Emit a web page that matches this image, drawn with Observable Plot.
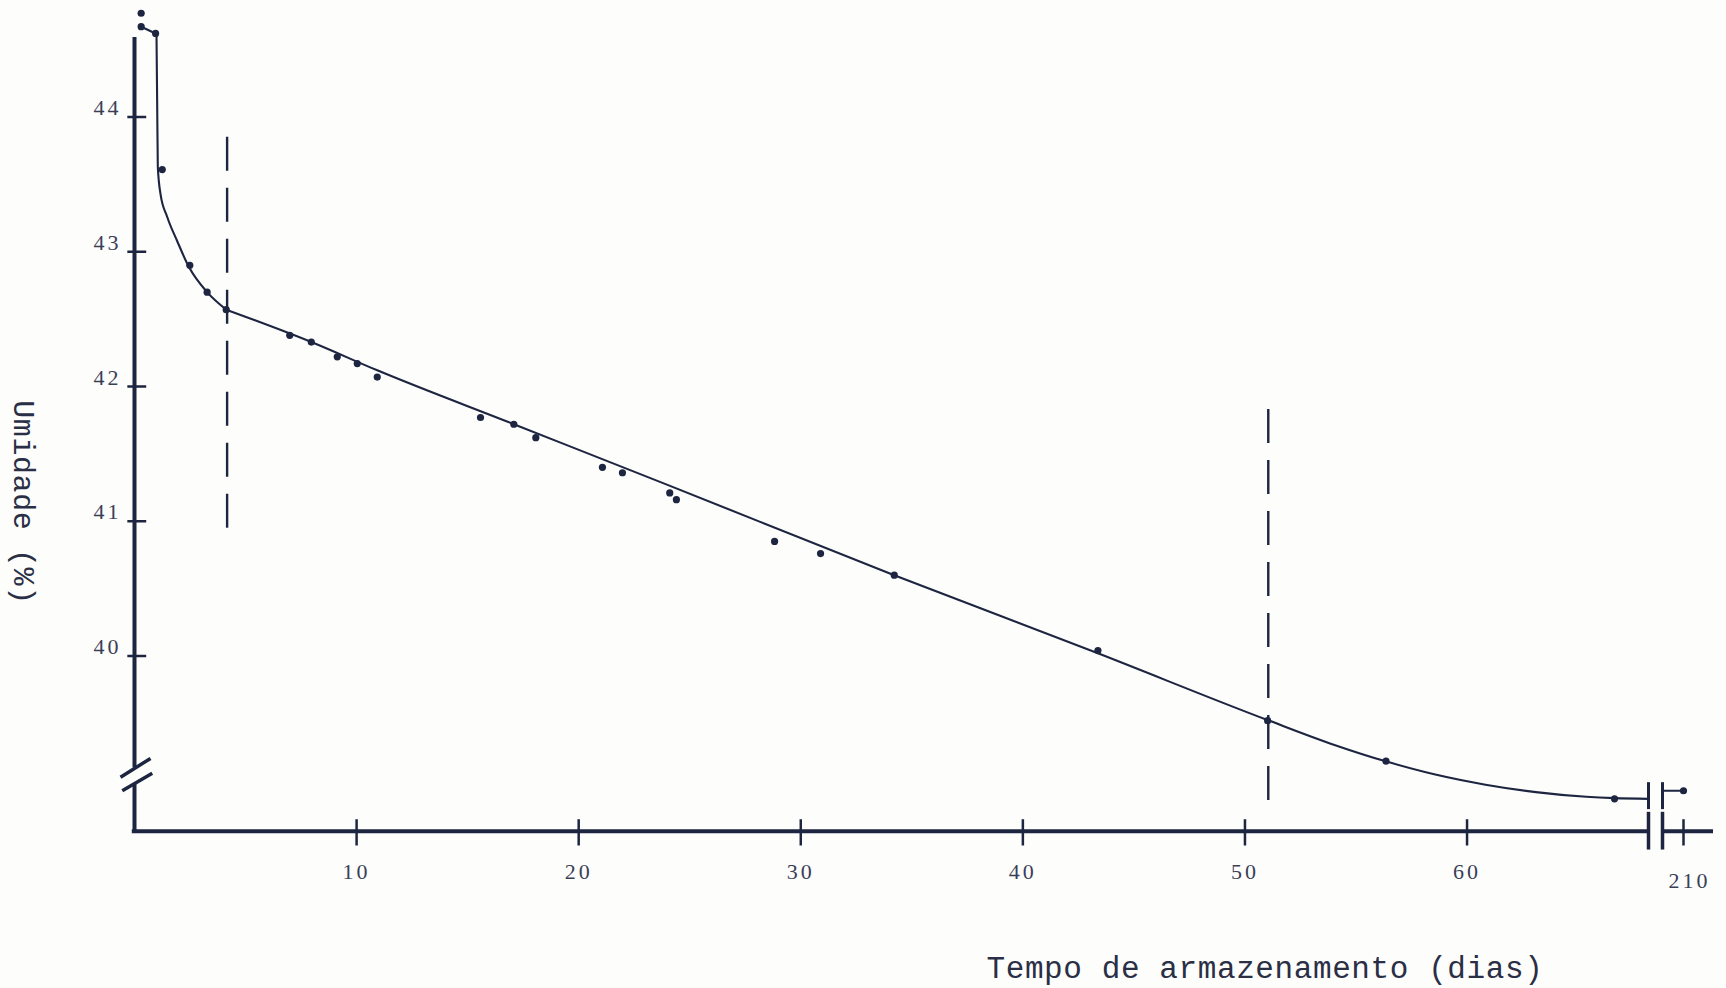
<!DOCTYPE html>
<html>
<head>
<meta charset="utf-8">
<script src="https://cdn.jsdelivr.net/npm/d3@7"></script>
<script src="https://cdn.jsdelivr.net/npm/@observablehq/plot@0.6"></script>
<style>
  html, body { margin: 0; padding: 0; background: #fdfdfc; }
  #chart svg { display: block; }
  g[font-family="Liberation Serif"] text { letter-spacing: 3px; }
  g[font-family="Liberation Mono"] text { letter-spacing: 0.6px; }
</style>
</head>
<body>
<div id="chart"></div>
<script>
// Moisture (%) measured during storage (days)
const days     = [0.30, 0.30, 0.95, 1.25, 2.49, 3.27, 4.13, 6.99, 7.96, 9.13, 10.03, 10.93, 15.58, 17.08, 18.07, 21.07, 21.97, 24.10, 24.40, 28.82, 30.89, 34.21, 43.38, 51.02, 56.35, 66.64, 210];
const moisture = [44.77, 44.67, 44.62, 43.61, 42.90, 42.70, 42.57, 42.38, 42.33, 42.22, 42.17, 42.07, 41.77, 41.72, 41.62, 41.40, 41.36, 41.21, 41.16, 40.85, 40.76, 40.60, 40.04, 39.52, 39.22, 38.94, 39.00];

// Fitted curve: initial fast drop (until the first phase limit)
const headDays   = [0.99, 1.02, 1.05, 1.17, 1.47, 1.92, 2.44, 3.27, 4.13];
const headValues = [44.62, 44.12, 43.63, 43.43, 43.26, 43.08, 42.89, 42.70, 42.57];
// Fitted curve: linear phase and final levelling off
const bodyDays   = [4.13, 7.96, 10.93, 17.08, 24.00, 34.21, 43.38, 51.01, 54.03, 56.30, 58.57, 60.83, 63.10, 65.37, 66.64, 68.17];
const bodyValues = [42.57, 42.33, 42.12, 41.72, 41.27, 40.60, 40.02, 39.525, 39.34, 39.22, 39.12, 39.045, 38.99, 38.955, 38.945, 38.94];
// short joining pieces before the curve and after the axis break
const leadDays = [0.30, 0.95], leadValues = [44.67, 44.62];
const tailDays = [208.6, 210], tailValues = [39.00, 39.00];

// Phase limits (dashed verticals)
const phaseDays   = [4.17, 51.05];
const phaseTop    = [43.85, 41.83];
const phaseBottom = [40.87, 38.86];

// Axis ticks
const xTicks = [10, 20, 30, 40, 50, 60, 210];
const yTicks = [40, 41, 42, 43, 44];

// Axis frame (data units) and breaks
const axisLevel = 38.70;           // moisture level at which the time axis sits
const yAxisParts = [{y1: 44.59, y2: 39.17}, {y1: 39.05, y2: axisLevel}];
const xAxisParts = [{x1: -0.1, x2: 68.17}, {x1: 208.6, x2: 212}];
const breakDays = [68.17, 208.6];
const yBreakSlashes = [
  {x1: -0.63, y1: 39.10, x2: 0.72, y2: 39.24},
  {x1: -0.55, y1: 39.00, x2: 0.80, y2: 39.13}
];

const toRows = (xs, ys) => xs.map((d, i) => ({day: d, value: ys[i]}));
const points = toRows(days, moisture);
const head = toRows(headDays, headValues);
const body = toRows(bodyDays, bodyValues);
const lead = toRows(leadDays, leadValues);
const tail = toRows(tailDays, tailValues);
const phases = phaseDays.map((d, i) => ({day: d, top: phaseTop[i], bottom: phaseBottom[i]}));

const ink = "#1d2540";
const labelInk = "#3a3f57";

const chart = Plot.plot({
  width: 1726,
  height: 988,
  marginLeft: 134,
  marginRight: 13,
  marginTop: 173,
  marginBottom: 157,
  style: {background: "transparent", overflow: "visible"},
  x: {type: "linear", domain: [0, 68.17, 208.6, 212], range: [134, 1648, 1662, 1713], axis: null},
  y: {type: "linear", domain: [40, 44], range: [655.5, 116.5], axis: null},
  marks: [
    // phase limits
    Plot.ruleX(phases, {x: "day", y1: "top", y2: "bottom", stroke: ink, strokeWidth: 2.4, strokeDasharray: "34,17"}),
    // axes
    Plot.ruleX(yAxisParts, {x: () => 0, y1: "y1", y2: "y2", stroke: ink, strokeWidth: 4}),
    Plot.ruleY(xAxisParts, {y: () => axisLevel, x1: "x1", x2: "x2", stroke: ink, strokeWidth: 4}),
    Plot.ruleY(yTicks, {y: d => d, x1: () => -0.3, x2: () => 0.55, stroke: ink, strokeWidth: 2.5}),
    Plot.ruleX(xTicks, {x: d => d, y1: () => axisLevel - 0.11, y2: () => axisLevel + 0.085, stroke: ink, strokeWidth: 2.5}),
    // axis breaks
    Plot.ruleX(breakDays, {x: d => d, y1: () => axisLevel - 0.14, y2: () => axisLevel + 0.14, stroke: ink, strokeWidth: 3.5}),
    Plot.ruleX(breakDays, {x: d => d, y1: () => 38.86, y2: () => 39.06, stroke: ink, strokeWidth: 3}),
    Plot.link(yBreakSlashes, {x1: "x1", y1: "y1", x2: "x2", y2: "y2", stroke: ink, strokeWidth: 3.5}),
    // fitted curve
    Plot.line(head, {x: "day", y: "value", curve: "monotone-x", stroke: ink, strokeWidth: 2.1}),
    Plot.line(body, {x: "day", y: "value", curve: "monotone-x", stroke: ink, strokeWidth: 2.1}),
    Plot.line(lead, {x: "day", y: "value", stroke: ink, strokeWidth: 2.1}),
    Plot.line(tail, {x: "day", y: "value", stroke: ink, strokeWidth: 2.1}),
    // observations
    Plot.dot(points, {x: "day", y: "value", r: 3.6, fill: ink, stroke: "none"}),
    // tick labels
    Plot.text(xTicks.filter(d => d < 100), {x: d => d, text: d => String(d), frameAnchor: "bottom", dy: 40, lineAnchor: "middle", fontFamily: "Liberation Serif", fontSize: 22, fill: labelInk}),
    Plot.text(xTicks.filter(d => d > 100), {x: d => d, text: d => String(d), frameAnchor: "bottom", dy: 49, dx: 6, lineAnchor: "middle", fontFamily: "Liberation Serif", fontSize: 22, fill: labelInk}),
    Plot.text(yTicks, {y: d => d, text: d => String(d), frameAnchor: "left", textAnchor: "end", dx: -13, dy: -9, lineAnchor: "middle", fontFamily: "Liberation Serif", fontSize: 22, fill: labelInk}),
    // axis titles
    Plot.text(["Tempo de armazenamento (dias)"], {text: d => d, frameAnchor: "bottom-left", textAnchor: "start", dx: 852, dy: 137, lineAnchor: "middle", fontFamily: "Liberation Mono", fontSize: 31, fill: "#2a2f45"}),
    Plot.text(["Umidade (%)"], {text: d => d, frameAnchor: "left", textAnchor: "middle", rotate: 90, dx: -111, lineAnchor: "middle", fontFamily: "Liberation Mono", fontSize: 30, fill: "#2a2f45"})
  ]
});

document.getElementById("chart").appendChild(chart);
</script>
</body>
</html>
